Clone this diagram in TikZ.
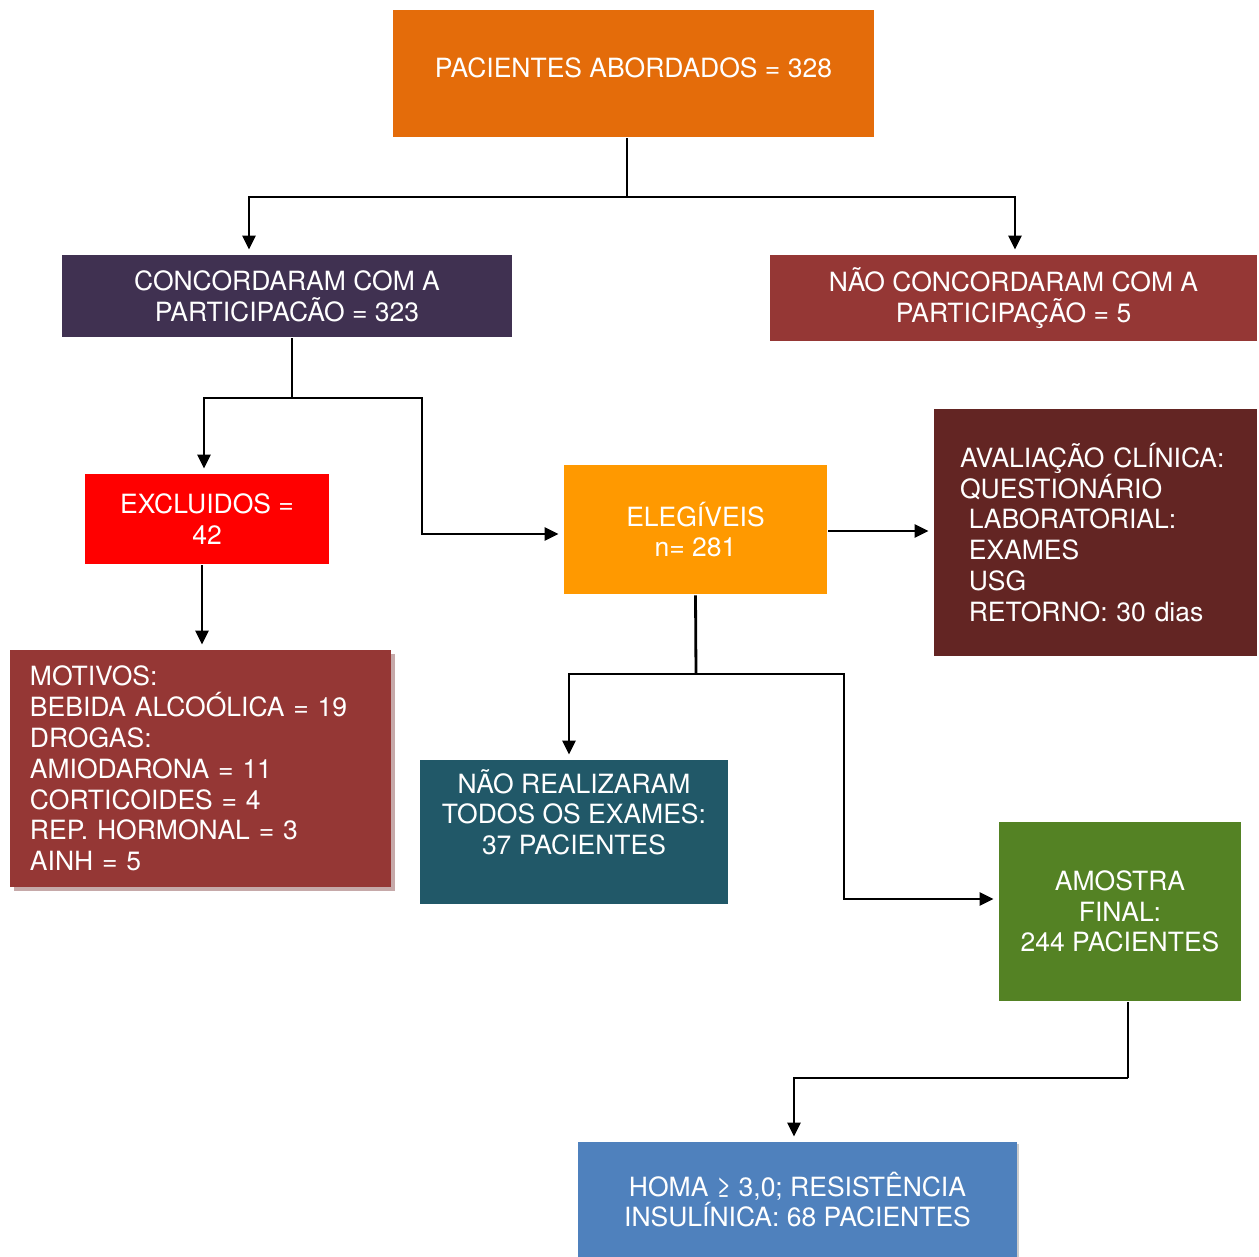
\documentclass[tikz,border=0pt]{standalone}
\usepackage{fontspec}
\setmainfont{TeX Gyre Heros}
\usetikzlibrary{positioning,arrows.meta,shadows}
\definecolor{laranja}{HTML}{E46C0A}
\definecolor{roxo}{HTML}{403151}
\definecolor{vinho}{HTML}{953735}
\definecolor{vermelho}{HTML}{FF0000}
\definecolor{amarelo}{HTML}{FF9900}
\definecolor{marrom}{HTML}{632523}
\definecolor{petroleo}{HTML}{215868}
\definecolor{verde}{HTML}{548224}
\definecolor{azul}{HTML}{4F81BD}
\tikzset{every picture/.append style={line width=2.8pt}}

\begin{document}
\begin{tikzpicture}[x=1pt,y=-1pt]
      \tikzstyle{box}=[rectangle,inner sep=0pt,text=white,align=center,font=\fontsize{26.5}{30.8}\selectfont]
      \tikzstyle{flow}=[shorten >=4pt,-{Triangle[length=14pt,width=13pt]}]
      \useasboundingbox (0,0) rectangle (1259,1257);
      \node[box,fill=laranja,minimum width=481,minimum height=127,text depth=12pt] at (633.5,73.5) (P) {PACIENTES ABORDADOS = 328};
      \node[box,fill=roxo,minimum width=450,minimum height=82] at (287,296) (C) {CONCORDARAM COM A\\PARTICIPACÃO = 323};
      \node[box,fill=vinho,minimum width=487,minimum height=86] at (1013.5,298) (N) {NÃO CONCORDARAM COM A\\PARTICIPAÇÃO = 5};
      \node[box,fill=vermelho,minimum width=244,minimum height=90] at (207,519) (E) {EXCLUIDOS =\\42};
      \node[box,fill=amarelo,minimum width=263,minimum height=129] at (695.5,529.5) (EL) {ELEGÍVEIS\\n= 281};
      \node[box,fill=marrom,minimum width=323,minimum height=247,text width=271,align=left] at (1095.5,532.5) (A) {AVALIAÇÃO CLÍNICA:\\QUESTIONÁRIO\\\ LABORATORIAL:\\\ EXAMES\\\ USG\\\ RETORNO: 30 dias};
      \node[box,fill=vinho,minimum width=381,minimum height=237,text width=341,align=left,
            general shadow={fill=black!25!vinho!40,shadow xshift=4pt,shadow yshift=-4pt}] at (200.5,768.5) (M)
            {MOTIVOS:\\BEBIDA ALCOÓLICA = 19\\DROGAS:\\AMIODARONA = 11\\CORTICOIDES = 4\\REP. HORMONAL = 3\\AINH = 5};
      \node[box,fill=petroleo,minimum width=308,minimum height=144] at (574,832) (NR) {NÃO REALIZARAM\\TODOS OS EXAMES:\\37 PACIENTES\\\strut};
      \node[box,fill=verde,minimum width=242,minimum height=179] at (1120,911.5) (AF) {AMOSTRA\\FINAL:\\244 PACIENTES};
      \node[box,fill=azul,minimum width=439,minimum height=115,
            general shadow={fill=black!20,shadow xshift=2pt,shadow yshift=-2pt}] at (797.5,1199.5) (H) {HOMA ≥ 3,0; RESISTÊNCIA\\INSULÍNICA: 68 PACIENTES};
      % ligacoes
      \coordinate (j1) at (627,197);
      \coordinate (j2) at (292,398);
      \coordinate (b1) at (422,398);
      \coordinate (j3) at (696,674);
      \coordinate (b2) at (844,674);
      \coordinate (j4) at (1128,1078);
      \draw ([xshift=-6.5pt]P.south) -- (j1);
      \draw[flow] (j1) -| ([xshift=-38pt]C.north);
      \draw[flow] (j1) -| ([xshift=1.5pt]N.north);
      \draw ([xshift=5pt]C.south) -- (j2);
      \draw[flow] (j2) -| ([xshift=-3pt]E.north);
      \draw[flow] (j2) -- (b1) |- ([yshift=-4.5pt]EL.west);
      \draw[flow] ([xshift=-5pt]E.south) -- ([xshift=-5pt]E.south |- M.north);
      \draw[flow] ([yshift=-1.5pt]EL.east) -- ([yshift=-1.5pt]EL.east -| A.west);
      \draw (EL.south) -- (j3);
      \draw[flow] (j3) -| ([xshift=-5pt]NR.north);
      \draw[flow] (j3) -- (b2) |- ([yshift=12.5pt]AF.west);
      \draw ([xshift=8pt]AF.south) -- (j4);
      \draw[flow] (j4) -| ([xshift=-3.5pt]H.north);
    \end{tikzpicture}
\end{document}
